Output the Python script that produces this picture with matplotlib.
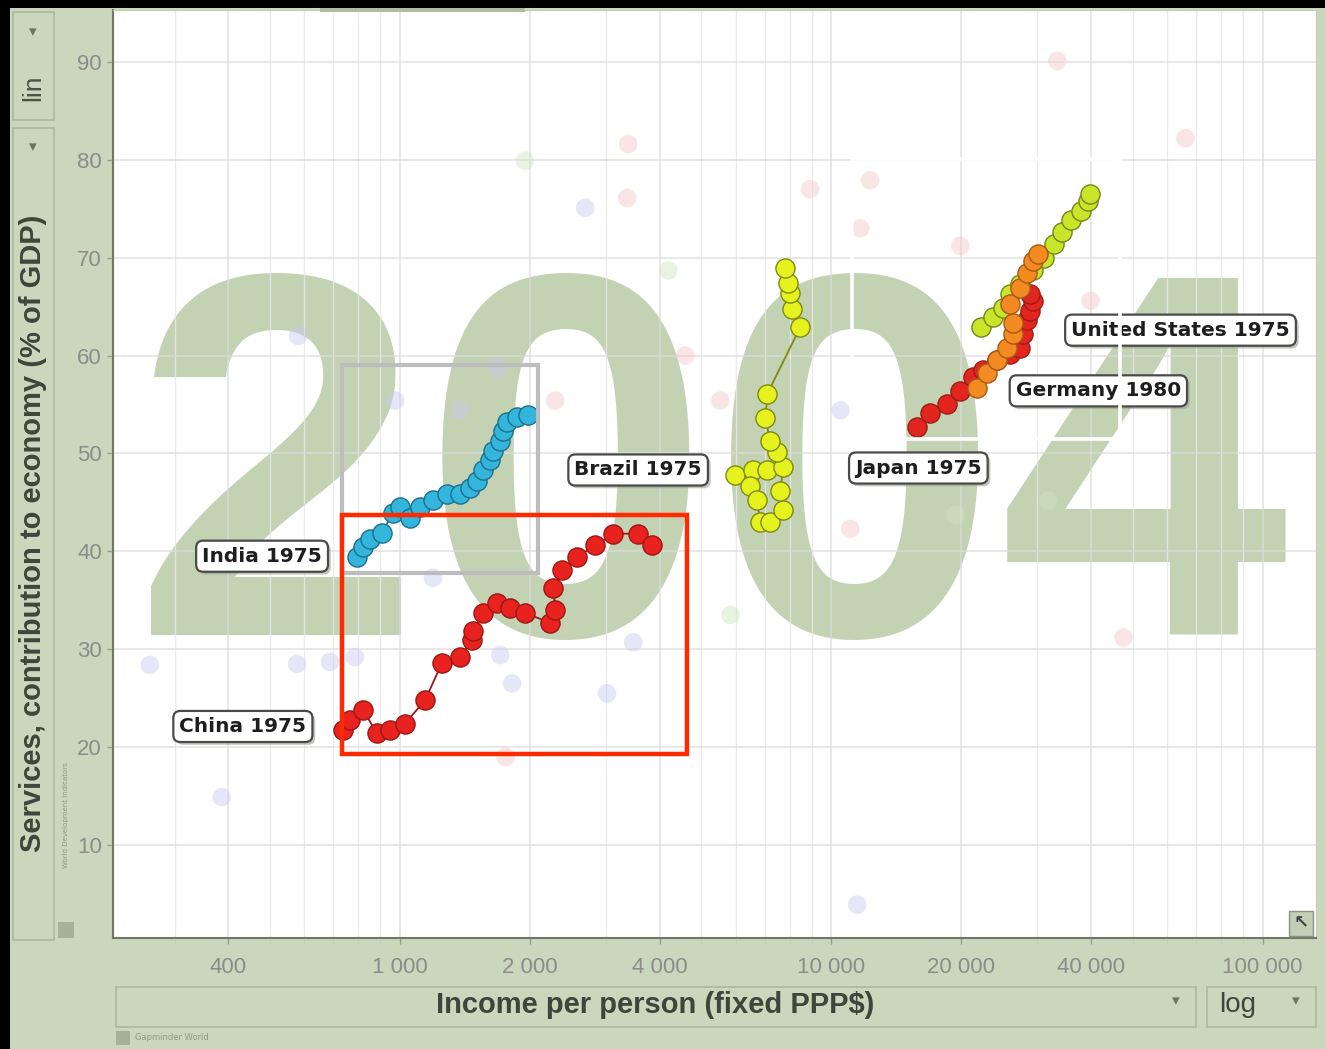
import matplotlib
matplotlib.use("Agg")
import matplotlib.pyplot as plt
import matplotlib.patheffects as pe
from matplotlib.patches import Rectangle
from matplotlib.ticker import FixedLocator, FixedFormatter, LogLocator, NullFormatter

W, H = 1325, 1049

# services share of GDP vs income per person (fixed PPP$), first point = label year
china_income = [737, 766, 821, 884, 948, 1027, 1143, 1251, 1377, 1469, 1477, 1559,
                1679, 1800, 1950, 2229, 2290, 2268, 2378, 2575, 2834, 3118, 3565, 3845]
china_services = [21.7, 22.8, 23.8, 21.4, 21.7, 22.4, 24.8, 28.6, 29.2, 30.9, 31.9, 33.7,
                  34.7, 34.2, 33.7, 32.7, 34.0, 36.3, 38.1, 39.4, 40.6, 41.8, 41.8, 40.6]

india_income = [795, 821, 852, 908, 963, 1000, 1055, 1113, 1193, 1286, 1378, 1453,
                1509, 1558, 1618, 1644, 1707, 1734, 1771, 1868, 1981]
india_services = [39.4, 40.4, 41.3, 41.9, 43.9, 44.5, 43.4, 44.5, 45.2, 45.9, 45.9, 46.5,
                  47.2, 48.3, 49.3, 50.3, 51.3, 52.3, 53.2, 53.7, 53.9]

brazil_income = [5984, 6590, 7106, 6482, 6730, 6840, 7213, 7737, 7615, 7737, 7493,
                 7213, 7030, 7106, 8475, 8123, 8040, 7952, 7823]
brazil_services = [47.8, 48.3, 48.3, 46.7, 45.2, 43.0, 43.0, 44.2, 46.2, 48.6, 50.1,
                   51.3, 53.6, 56.1, 62.9, 64.8, 66.4, 67.4, 68.9]

japan_income = [15830, 16970, 18580, 19910, 21340, 22510, 24270, 26020, 27450,
                27890, 28490, 28960, 29430, 28960]
japan_services = [52.7, 54.1, 55.1, 56.4, 57.8, 58.5, 59.5, 60.2, 60.8,
                  62.2, 63.6, 64.6, 65.6, 66.3]

germany_income = [21810, 23010, 24270, 25600, 26420, 26420, 26020, 27450, 28490, 29430, 30080]
germany_services = [56.7, 58.2, 59.5, 60.8, 62.2, 63.3, 65.3, 66.9, 68.4, 69.7, 70.4]

us_income = [22180, 23770, 25070, 26020, 27450, 29430, 31050, 32750, 34350,
             35870, 37850, 39290, 39900]
us_services = [62.9, 63.9, 64.9, 66.3, 67.3, 68.7, 70.0, 71.4, 72.6,
               73.8, 74.8, 75.8, 76.5]

# other countries, drawn faded
others_income = [3381, 3364, 2687, 1949, 263, 386, 577, 688, 786, 3020, 3474, 1755,
                 11480, 47600, 33420, 66250, 580, 974, 1377, 1679, 2290, 1193, 1707,
                 1819, 12300, 11670, 8930, 4190, 4585, 5525, 10500, 11070, 19910,
                 39900, 31830, 19420, 5839]
others_services = [81.6, 76.1, 75.1, 79.9, 28.4, 14.9, 28.5, 28.7, 29.2, 25.5, 30.7, 19.0,
                   3.9, 31.2, 90.1, 82.2, 62.0, 55.4, 54.4, 58.7, 55.4, 37.3, 29.4,
                   26.5, 77.9, 73.0, 77.0, 68.7, 60.0, 55.4, 54.4, 42.3, 71.2,
                   65.6, 45.2, 43.7, 33.5]
others_region = ["p", "p", "b", "g", "b", "b", "b", "b", "b", "b", "b", "p",
                 "b", "p", "p", "p", "b", "b", "b", "b", "p", "b", "b",
                 "b", "p", "p", "p", "g", "p", "p", "b", "p", "p",
                 "p", "g", "g", "g"]

x_ticks = [400, 1000, 2000, 4000, 10000, 20000, 40000, 100000]
x_ticklabels = ["400", "1 000", "2 000", "4 000", "10 000", "20 000", "40 000", "100 000"]
y_ticks = [10, 20, 30, 40, 50, 60, 70, 80, 90]

# highlight boxes (x0, x1, y0, y1) in data units
gray_box = (733, 2090, 37.8, 59.0)
red_box = (733, 4633, 19.3, 43.7)
white_box = (11185, 46830, 51.5, 80.1)

GREEN = "#cad7bc"

fig = plt.figure(figsize=(W / 100, H / 100), dpi=100, facecolor=GREEN)


def fx(p):
    return p / W


def fy(p):
    return 1 - p / H


def frect(x0, y0, x1, y1, **kw):
    r = Rectangle((fx(x0), fy(y1)), fx(x1) - fx(x0), fy(y0) - fy(y1),
                  transform=fig.transFigure, **kw)
    fig.add_artist(r)
    return r


# black edges of the screenshot
frect(0, 0, W, 8, facecolor="black", edgecolor="none")
frect(0, 0, 10, H, facecolor="black", edgecolor="none")

# left control panel
frect(13, 12, 54, 120, facecolor="none", edgecolor="#aab99a", lw=1.2)
frect(13, 128, 54, 940, facecolor="none", edgecolor="#aab99a", lw=1.2)
fig.text(fx(33), fy(32), "▾", ha="center", va="center", fontsize=11, color="#6a7560")
fig.text(fx(33), fy(147), "▾", ha="center", va="center", fontsize=11, color="#6a7560")
fig.text(fx(33), fy(88), "lin", ha="center", va="center", rotation=90,
         fontsize=19, color="#4a5244", family="Liberation Sans")
fig.text(fx(33), fy(533), "Services, contribution to economy (% of GDP)", ha="center",
         va="center", rotation=90, fontsize=21, fontweight="bold", color="#3e453a",
         family="Liberation Sans")
frect(58, 922, 74, 938, facecolor="#a6b296", edgecolor="none")
fig.text(fx(66), fy(815), "World Development Indicators", ha="center", va="center",
         rotation=90, fontsize=5, color="#8d9a80")

# bottom control panel
frect(116, 987, 1196, 1027, facecolor="none", edgecolor="#aab99a", lw=1.2)
frect(1207, 987, 1316, 1027, facecolor="none", edgecolor="#aab99a", lw=1.2)
fig.text(fx(655), fy(1005), "Income per person (fixed PPP$)", ha="center", va="center",
         fontsize=21, fontweight="bold", color="#3e453a", family="Liberation Sans")
fig.text(fx(1238), fy(1005), "log", ha="center", va="center", fontsize=20,
         color="#3e453a", family="Liberation Sans")
fig.text(fx(1176), fy(1001), "▾", ha="center", va="center", fontsize=11, color="#6a7560")
fig.text(fx(1296), fy(1001), "▾", ha="center", va="center", fontsize=11, color="#6a7560")
frect(116, 1031, 130, 1045, facecolor="#a6b296", edgecolor="none")
fig.text(fx(135), fy(1038), "Gapminder World", ha="left", va="center", fontsize=6,
         color="#8d9a80")

# main plot
ax = fig.add_axes([fx(113), fy(938), fx(1316) - fx(113), fy(10) - fy(938)])
ax.set_facecolor("white")
ax.set_xscale("log")
ax.set_xlim(216, 133000)
ax.set_ylim(0.5, 95.3)

ax.xaxis.set_major_locator(FixedLocator(x_ticks))
ax.xaxis.set_major_formatter(FixedFormatter(x_ticklabels))
ax.xaxis.set_minor_locator(LogLocator(base=10, subs=[1, 2, 3, 4, 5, 6, 7, 8, 9]))
ax.xaxis.set_minor_formatter(NullFormatter())
ax.yaxis.set_major_locator(FixedLocator(y_ticks))
ax.yaxis.set_minor_locator(FixedLocator([]))
ax.grid(which="major", color="#dcdcdc", lw=1.1, alpha=0.85)
ax.grid(which="minor", axis="x", color="#e8e8e8", lw=0.9, alpha=0.85)
ax.set_axisbelow(True)
ax.tick_params(axis="both", which="major", labelsize=16, labelcolor="#8c8c8c",
               color="#9a9a9a", length=4, width=1)
ax.tick_params(axis="x", which="minor", color="#c9c9c9", length=4)
ax.tick_params(axis="x", pad=10)
ax.tick_params(axis="y", pad=4)
for lab in ax.get_xticklabels() + ax.get_yticklabels():
    lab.set_family("Liberation Sans")
ax.spines["left"].set_color("#6f7768")
ax.spines["bottom"].set_color("#6f7768")
ax.spines["left"].set_linewidth(1.5)
ax.spines["bottom"].set_linewidth(1.5)
ax.spines["top"].set_color("#c2cfb4")
ax.spines["right"].set_color("#c2cfb4")

# year watermark, drawn under the grid
ax.text(0.497, 0.3265, "2004", transform=ax.transAxes, ha="center", va="baseline",
        fontsize=374, fontweight="bold", family="Liberation Sans",
        color="#c4d2b4", zorder=0.2)

region_col = {"b": "#c9c9f2", "p": "#f6c6c6", "g": "#cfe5c0"}
ax.scatter(others_income, others_services, s=180,
           c=[region_col[r] for r in others_region], alpha=0.45,
           edgecolors="none", zorder=2)


def country(xs, ys, face, edge, z):
    ax.plot(xs, ys, color=edge, lw=1.3, zorder=z)
    ax.scatter(xs, ys, s=190, facecolor=face, edgecolor=edge, lw=1.0, zorder=z + 0.1)


country(japan_income, japan_services, "#e3251f", "#9a1d14", 3)
country(us_income, us_services, "#c9e52a", "#75851a", 3.3)
country(germany_income, germany_services, "#f38a22", "#a45a14", 3.6)
country(brazil_income, brazil_services, "#e6f21e", "#7c8a10", 4)
country(india_income, india_services, "#33b5dc", "#1d6f8c", 4)
country(china_income, china_services, "#e8221f", "#9c1713", 4.5)

labels = [
    ("India 1975", india_income[0], india_services[0], (-95, 1)),
    ("China 1975", china_income[0], china_services[0], (-100, 4)),
    ("Brazil 1975", brazil_income[0], brazil_services[0], (-97, 5)),
    ("Japan 1975", japan_income[0], japan_services[0], (1, -41)),
    ("United States 1975", us_income[0], us_services[0], (200, -3)),
    ("Germany 1980", germany_income[0], germany_services[0], (121, -3)),
]
for txt, x, y, off in labels:
    a = ax.annotate(txt, (x, y), xytext=off, textcoords="offset pixels",
                    ha="center", va="center", fontsize=14.5, fontweight="bold",
                    color="#1e1e1e", zorder=6,
                    bbox=dict(boxstyle="round,pad=0.3,rounding_size=0.35",
                              facecolor="white", edgecolor="#4a4a4a", lw=1.6))
    a.get_bbox_patch().set_path_effects([
        pe.SimplePatchShadow(offset=(2, -2), shadow_rgbFace="#9aa090", alpha=0.6),
        pe.Normal()])

for (x0, x1, y0, y1), col, lw in [(gray_box, "#bdbdbd", 3.0),
                                  (red_box, "#ff2a00", 3.2),
                                  (white_box, "white", 2.6)]:
    ax.add_patch(Rectangle((x0, y0), x1 - x0, y1 - y0, facecolor="none",
                           edgecolor=col, lw=lw, zorder=7))

# small tab above the plot and resize corner icon
frect(320, 8, 525, 12, facecolor="#aebd9d", edgecolor="none")
frect(1289, 911, 1313, 936, facecolor="#c3cdb8", edgecolor="#8a9580", lw=1)
fig.text(fx(1301), fy(923), "↖", ha="center", va="center", fontsize=13,
         color="#444444", fontweight="bold")

fig.savefig("out.png", dpi=100, facecolor=GREEN)
